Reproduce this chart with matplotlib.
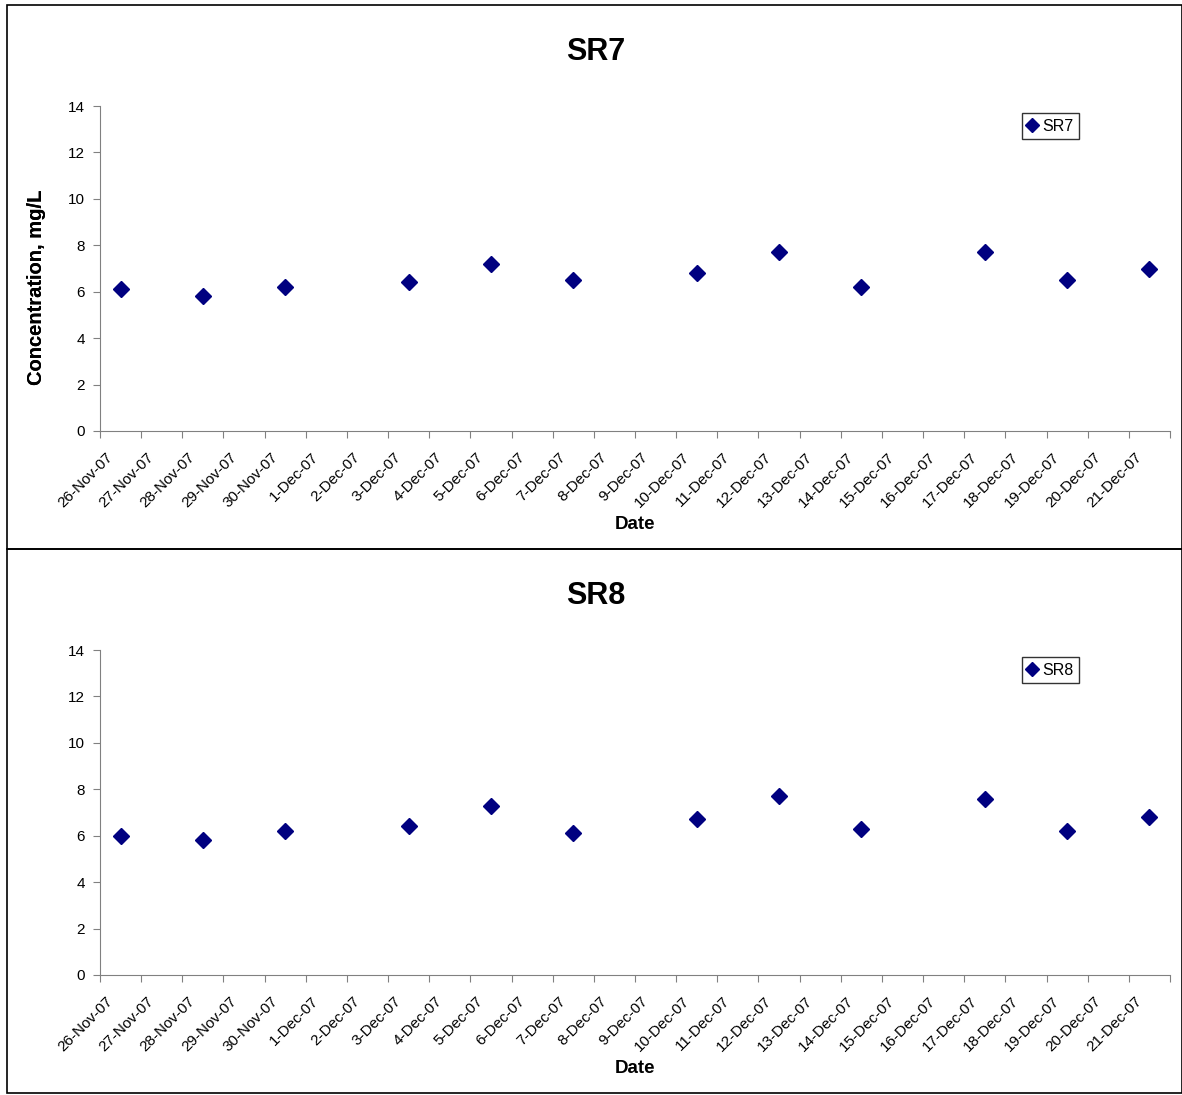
import matplotlib
matplotlib.use("Agg")
import matplotlib.pyplot as plt
import matplotlib.transforms as mtransforms
from matplotlib.patches import Rectangle
import numpy as np

plt.rcParams['font.family'] = ['Liberation Sans', 'DejaVu Sans']

# all days on the category axis
dates = ['26-Nov-07', '27-Nov-07', '28-Nov-07', '29-Nov-07', '30-Nov-07',
         '1-Dec-07', '2-Dec-07', '3-Dec-07', '4-Dec-07', '5-Dec-07',
         '6-Dec-07', '7-Dec-07', '8-Dec-07', '9-Dec-07', '10-Dec-07',
         '11-Dec-07', '12-Dec-07', '13-Dec-07', '14-Dec-07', '15-Dec-07',
         '16-Dec-07', '17-Dec-07', '18-Dec-07', '19-Dec-07', '20-Dec-07',
         '21-Dec-07']

# sampling days
sample_dates = ['26-Nov-07', '28-Nov-07', '30-Nov-07', '3-Dec-07', '5-Dec-07',
                '7-Dec-07', '10-Dec-07', '12-Dec-07', '14-Dec-07', '17-Dec-07',
                '19-Dec-07', '21-Dec-07']
sr7 = [6.1, 5.8, 6.2, 6.4, 7.2, 6.5, 6.8, 7.7, 6.2, 7.7, 6.5, 7.0]
sr8 = [6.0, 5.8, 6.2, 6.4, 7.3, 6.1, 6.7, 7.7, 6.3, 7.6, 6.2, 6.8]

W, H = 1182, 1095
fig = plt.figure(figsize=(W / 100, H / 100), dpi=100)

# panel borders (two stacked chart objects)
for (y0, y1) in [(5, 549), (549, 1093)]:
    fig.add_artist(Rectangle((7 / W, 1 - y1 / H), (W - 7) / W, (y1 - y0) / H,
                             transform=fig.transFigure, fill=False,
                             edgecolor='black', linewidth=1.2))

panels = [('SR7', sr7, 106, 431, 52), ('SR8', sr8, 650, 975, 596)]
xpos = [dates.index(d) for d in sample_dates]
gray = '#808080'

for name, vals, top, bot, ty in panels:
    ph = bot - top
    ax = fig.add_axes([100 / W, 1 - bot / H, (1170 - 100) / W, ph / H])
    ax.plot(xpos, vals, linestyle='none', marker='D', markersize=8.5,
            color='#000080', label=name)
    ax.set_xlim(-0.5, len(dates) - 0.5)
    ax.set_ylim(0, 14)
    ax.set_yticks(np.arange(0, 15, 2))
    ax.set_xticks(np.arange(-0.5, len(dates), 1))
    ax.set_xticklabels([])
    # rotated category labels, drawn by hand so they sit like Excel's
    lab_tr = (mtransforms.blended_transform_factory(ax.transData, ax.transAxes)
              + mtransforms.ScaledTranslation(-5 / 100, -19 / 100, fig.dpi_scale_trans))
    for i, d in enumerate(dates):
        ax.text(i, 0, d, transform=lab_tr, rotation=45, ha='right', va='top',
                fontsize=11)
    ax.tick_params(axis='x', length=5, color=gray, direction='out')
    ax.tick_params(axis='y', length=5, color=gray, direction='out', labelsize=11, pad=6)
    for s in ['top', 'right']:
        ax.spines[s].set_visible(False)
    for s in ['left', 'bottom']:
        ax.spines[s].set_color(gray)
    ax.set_xlabel('Date', fontsize=13.5, fontweight='bold')
    ax.xaxis.set_label_coords(0.5, -(516 - 431) / ph)
    ax.set_ylabel('Concentration, mg/L', fontsize=14.5, fontweight='bold')
    ax.yaxis.set_label_coords(-54 / 1070, 1 - (287 - top) / ph)
    fig.text(596 / W, 1 - ty / H, name, ha='center', va='center',
             fontsize=22, fontweight='bold')
    leg = ax.legend(loc='upper left', bbox_to_anchor=((1022 - 100) / 1070, 1 - 7 / ph),
                    fontsize=11.5, frameon=True, fancybox=False, handlelength=0.6,
                    handletextpad=0.3, borderpad=0.35, markerscale=0.8, borderaxespad=0)
    leg.get_frame().set_edgecolor('black')
    leg.get_frame().set_linewidth(1.0)

fig.savefig('out.png', dpi=100)
